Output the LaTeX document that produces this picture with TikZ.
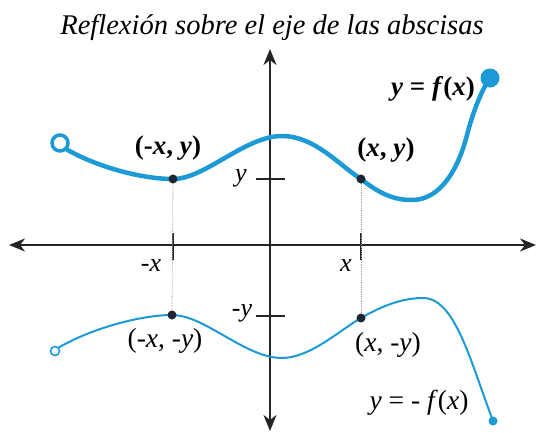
\documentclass[tikz,border=0pt]{standalone}
\usepackage{fontspec}
\setmainfont{Liberation Serif}
\usetikzlibrary{arrows.meta}
\definecolor{curveblue}{RGB}{27,154,214}
\definecolor{dotnavy}{RGB}{28,38,52}
\definecolor{axisgray}{RGB}{38,38,38}
\begin{document}
\begin{tikzpicture}[x=1pt,y=-1pt,
  axis/.style={line width=2pt, draw=axisgray, -{Stealth[length=16pt,width=13pt,inset=5pt]}},
  tick/.style={line width=2.6pt, draw=axisgray},
  guide/.style={densely dotted, line width=0.8pt, draw=gray!70},
  ptdot/.style={circle, fill=dotnavy, inner sep=0pt, minimum size=9pt},
  bigcurve/.style={line width=4.5pt, draw=curveblue, line cap=round},
  smallcurve/.style={line width=2pt, draw=curveblue, line cap=round},
  blabel/.style={font=\rmfamily\fontsize{27}{29}\selectfont\bfseries, inner sep=0pt},
  nlabel/.style={font=\rmfamily\fontsize{27.5}{29}\selectfont, inner sep=0pt},
  alabel/.style={font=\rmfamily\fontsize{26}{28}\selectfont\itshape, inner sep=0pt}]
\useasboundingbox (0,0) rectangle (538,432);

% title
\node[font=\rmfamily\fontsize{28.5}{30}\selectfont\itshape, anchor=base] (title) at (272,34) {Reflexión sobre el eje de las abscisas};

% axes
\coordinate (xl) at (270,245);
\coordinate (xL) at (9,245);
\coordinate (xR) at (536,245);
\coordinate (yT) at (270,49);
\coordinate (yB) at (270,431);
\draw[axis] (xl) -- (xL);
\draw[axis] (xl) -- (xR);
\draw[axis] (xl) -- (yT);
\draw[axis] (xl) -- (yB);

% ticks
\coordinate (tmxa) at (173,233); \coordinate (tmxb) at (173,260);
\coordinate (txa) at (361,233);  \coordinate (txb) at (361,260);
\coordinate (tya) at (256,179);  \coordinate (tyb) at (285,179);
\coordinate (tmya) at (256,316); \coordinate (tmyb) at (285,316);
\draw[tick] (tmxa) -- (tmxb);
\draw[tick] (txa) -- (txb);
\draw[tick] (tya) -- (tyb);
\draw[tick] (tmya) -- (tmyb);

% axis labels
\node[alabel] (lmx) at (151,266) {-x};
\node[alabel] (lx) at (346,266) {x};
\node[alabel] (ly) at (241,178) {y};
\node[alabel] (lmy) at (242,313) {-y};

% points
\coordinate (pA) at (173,179);
\coordinate (pB) at (361,179);
\coordinate (pC) at (172,315);
\coordinate (pD) at (361,318);

% guides
\draw[guide] (pA) -- (pC);
\draw[guide] (pB) -- (pD);

% upper curve y = f(x)
\coordinate (uS) at (60,143);
\coordinate (uE) at (490,78);
\draw[bigcurve] (66,149) .. controls (95,166) and (140,179) .. (pA)
  .. controls (205,179) and (245,136) .. (282,136)
  .. controls (315,136) and (340,166) .. (pB)
  .. controls (380,194) and (394,200) .. (412,200)
  .. controls (440,200) and (458,170) .. (467,135)
  .. controls (474,108) and (483,88) .. (uE);
\node[circle, draw=curveblue, fill=white, line width=3.5pt, minimum size=16pt, inner sep=0pt] (uopen) at (uS) {};
\node[circle, fill=curveblue, minimum size=19pt, inner sep=0pt] (uend) at (uE) {};

% lower curve y = -f(x)
\coordinate (lS) at (55,351);
\coordinate (lE) at (493,421);
\draw[smallcurve] (58,348) .. controls (90,329) and (140,315) .. (pC)
  .. controls (205,315) and (245,358) .. (282,358)
  .. controls (310,358) and (340,330) .. (pD)
  .. controls (385,304) and (405,298) .. (423,298)
  .. controls (455,298) and (470,360) .. (lE);
\node[circle, draw=curveblue, fill=white, line width=1.6pt, minimum size=9pt, inner sep=0pt] (lopen) at (lS) {};
\node[circle, fill=curveblue, minimum size=9pt, inner sep=0pt] (lend) at (lE) {};

% point dots
\node[ptdot] (dA) at (pA) {};
\node[ptdot] (dB) at (pB) {};
\node[ptdot] (dC) at (pC) {};
\node[ptdot] (dD) at (pD) {};

% labels
\node[blabel] (labA) at (168,148) {(-\textit{x}, \textit{y})};
\node[blabel] (labB) at (386,150) {(\textit{x}, \textit{y})};
\node[blabel] (labF) at (433,89) {\textit{y} = \textit{f}(\textit{x})};
\node[nlabel] (labC) at (165,341) {(-\textit{x}, -\textit{y})};
\node[nlabel] (labD) at (388,345) {(\textit{x}, -\textit{y})};
\node[nlabel] (labG) at (419,403) {\textit{y} = - \textit{f}(\textit{x})};
\end{tikzpicture}
\end{document}
